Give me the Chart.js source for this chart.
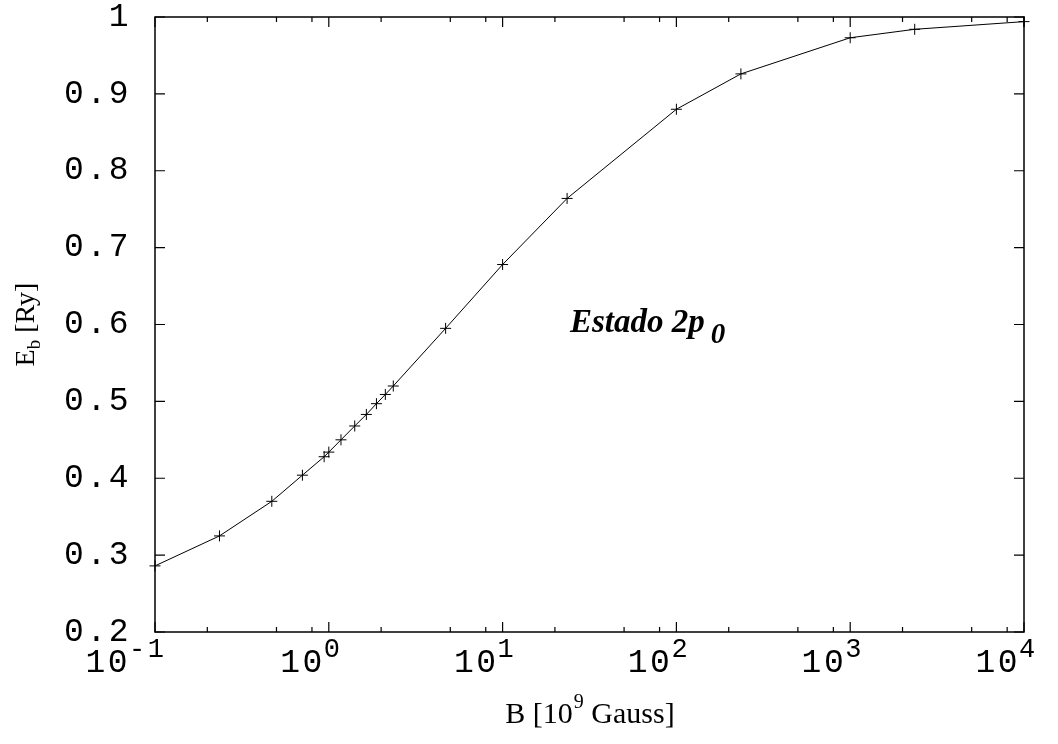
<!DOCTYPE html>
<html>
<head>
<meta charset="utf-8">
<script src="https://cdn.jsdelivr.net/npm/chart.js@4"></script>
<style>
  body { margin: 0; background: #fff; }
  canvas { display: block; }
</style>
</head>
<body>
<canvas id="chartCanvas" width="1058" height="744"></canvas>
<script>
// campo magnetico B [10^9 Gauss] y energia de enlace E_b [Ry], estado 2p0
const fieldB = [0.1, 0.235, 0.47, 0.705, 0.94, 1.0, 1.175, 1.41, 1.645, 1.88, 2.115, 2.35,
                4.7, 10, 23.5, 100, 235, 1000, 2350, 10000];
const energy = [0.286, 0.325, 0.370, 0.404, 0.428, 0.434, 0.450, 0.468, 0.483, 0.497, 0.509, 0.520,
                0.595, 0.678, 0.764, 0.880, 0.926, 0.973, 0.984, 0.994];
const xDecades = [-1, 0, 1, 2, 3, 4];
const xMinor = [2, 5, 8];
const yTicks = [0.2, 0.3, 0.4, 0.5, 0.6, 0.7, 0.8, 0.9, 1];

const mono = '"Liberation Mono", "DejaVu Sans Mono", monospace';
const serif = '"Liberation Serif", "Times New Roman", serif';
const spacing = '2.5px';

const framePlugin = {
  id: 'frame',
  beforeDraw(chart) { chart.ctx.letterSpacing = spacing; },
  beforeDatasetsDraw(chart) { chart.ctx.letterSpacing = '0px'; },
  afterDraw(chart) {
    const { ctx, chartArea: a, scales: { x, y } } = chart;
    ctx.save();
    ctx.strokeStyle = '#000';
    ctx.lineWidth = 1.5;
    ctx.strokeRect(a.left, a.top, a.right - a.left, a.bottom - a.top);

    // ticks hacia dentro, en los cuatro lados
    ctx.lineWidth = 1.2;
    ctx.beginPath();
    yTicks.forEach(v => {
      const py = y.getPixelForValue(v);
      ctx.moveTo(a.left, py); ctx.lineTo(a.left + 10, py);
      ctx.moveTo(a.right, py); ctx.lineTo(a.right - 10, py);
    });
    xDecades.forEach(e => {
      const px = x.getPixelForValue(Math.pow(10, e));
      ctx.moveTo(px, a.bottom); ctx.lineTo(px, a.bottom - 10);
      ctx.moveTo(px, a.top); ctx.lineTo(px, a.top + 10);
      if (e < 4) {
        xMinor.forEach(m => {
          const pm = x.getPixelForValue(m * Math.pow(10, e));
          ctx.moveTo(pm, a.bottom); ctx.lineTo(pm, a.bottom - 5);
          ctx.moveTo(pm, a.top); ctx.lineTo(pm, a.top + 5);
        });
      }
    });
    ctx.stroke();

    // etiquetas del eje x: 10^n
    ctx.fillStyle = '#000';
    ctx.letterSpacing = spacing;
    xDecades.forEach(e => {
      const px = x.getPixelForValue(Math.pow(10, e));
      const exp = String(e);
      const baseX = px - 4 - 21 * (exp.length - 1);
      ctx.font = '33px ' + mono;
      ctx.textAlign = 'right';
      ctx.textBaseline = 'alphabetic';
      ctx.fillText('10', baseX, 672);
      ctx.font = '27px ' + mono;
      ctx.textAlign = 'left';
      ctx.fillText(exp, baseX - 1, 657);
    });
    ctx.letterSpacing = '0px';

    // titulo eje x
    ctx.textAlign = 'left';
    const p1 = 'B [10', p2 = '9', p3 = ' Gauss]';
    ctx.font = '30px ' + serif; const w1 = ctx.measureText(p1).width;
    ctx.font = '20px ' + serif; const w2 = ctx.measureText(p2).width;
    ctx.font = '30px ' + serif; const w3 = ctx.measureText(p3).width;
    let sx = (a.left + a.right) / 2 - (w1 + w2 + w3) / 2;
    ctx.fillText(p1, sx, 723);
    ctx.font = '20px ' + serif; ctx.fillText(p2, sx + w1 + 1, 708);
    ctx.font = '30px ' + serif; ctx.fillText(p3, sx + w1 + w2 + 1, 723);

    // titulo eje y
    ctx.save();
    ctx.translate(34, (a.top + a.bottom) / 2);
    ctx.rotate(-Math.PI / 2);
    ctx.font = '28px ' + serif; const e1 = ctx.measureText('E').width;
    ctx.font = '19px ' + serif; const e2 = ctx.measureText('b').width;
    ctx.font = '28px ' + serif; const e3 = ctx.measureText(' [Ry]').width;
    let ty = -(e1 + e2 + e3) / 2;
    ctx.fillText('E', ty, 0);
    ctx.font = '19px ' + serif; ctx.fillText('b', ty + e1, 6);
    ctx.font = '28px ' + serif; ctx.fillText(' [Ry]', ty + e1 + e2, 0);
    ctx.restore();

    // anotacion
    ctx.font = 'italic bold 33px ' + serif;
    ctx.fillText('Estado 2p', 570, 332);
    const wa = ctx.measureText('Estado 2p').width;
    ctx.font = 'italic bold 29px ' + serif;
    ctx.fillText('0', 570 + wa + 6, 343);
    ctx.restore();
  }
};

const ctx = document.getElementById('chartCanvas').getContext('2d');
new Chart(ctx, {
  type: 'scatter',
  data: {
    datasets: [{
      data: fieldB.map((b, i) => ({ x: b, y: energy[i] })),
      showLine: true,
      borderColor: '#000',
      borderWidth: 1,
      pointStyle: 'cross',
      pointRadius: 5.5,
      pointBorderWidth: 1,
      pointBorderColor: '#000',
      clip: false
    }]
  },
  options: {
    responsive: false,
    animation: false,
    layout: { padding: { top: 17, right: 34, left: 0, bottom: 0 } },
    plugins: { legend: { display: false }, tooltip: { enabled: false } },
    scales: {
      x: {
        type: 'logarithmic',
        min: 0.1,
        max: 10000,
        afterBuildTicks: s => { s.ticks = xDecades.map(e => ({ value: Math.pow(10, e) })); },
        afterFit: s => { s.height = 112; s.paddingLeft = 0; s.paddingRight = 0; },
        ticks: { display: false },
        grid: { display: false, drawTicks: false },
        border: { display: false }
      },
      y: {
        min: 0.2,
        max: 1,
        afterBuildTicks: s => { s.ticks = yTicks.map(v => ({ value: v })); },
        afterFit: s => { s.width = 155; s.paddingTop = 0; s.paddingBottom = 0; },
        ticks: {
          color: '#000',
          padding: 24,
          font: { family: mono, size: 33 },
          callback: v => String(+v.toFixed(1))
        },
        grid: { display: false, drawTicks: false },
        border: { display: false }
      }
    }
  },
  plugins: [framePlugin]
});
</script>
</body>
</html>
